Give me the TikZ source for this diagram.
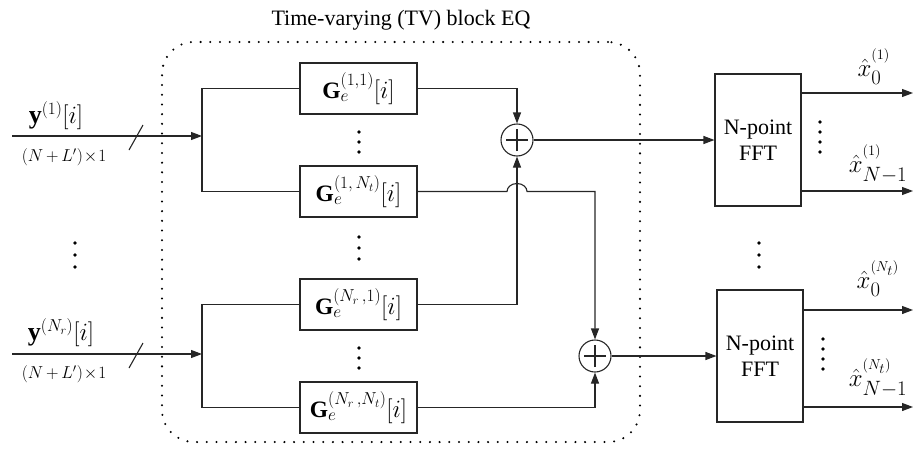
\documentclass[tikz,border=0pt]{standalone}
\usepackage{amsmath}
\usepackage{fontspec}
\setmainfont{Liberation Serif}
\usetikzlibrary{arrows.meta}
\begin{document}
\begin{tikzpicture}[x=1pt,y=-1pt,
  every node/.style={font=\fontsize{22}{26}\selectfont},
  wire/.style={line width=1.1pt, draw=black!85},
  arr/.style={wire,-{Triangle[length=11pt,width=8pt]}},
  gbox/.style={draw=black!85, line width=1.1pt, minimum width=117pt, minimum height=51pt, inner sep=0pt, font=\fontsize{23.5}{26}\selectfont},
  fftbox/.style={draw=black!85, line width=1.1pt, minimum width=86pt, minimum height=132pt, align=center, inner sep=0pt},
  sumnode/.style={circle, draw=black!85, line width=1.1pt, minimum size=32pt, inner sep=0pt},
  eqframe/.style={draw, line width=2.3pt, dash pattern=on 0pt off 9.7pt, line cap=round, rounded corners=32pt, minimum width=478pt, minimum height=400pt, inner sep=0pt},
  small/.style={font=\fontsize{17}{20}\selectfont},
  ylab/.style={font=\fontsize{26}{30}\selectfont},
  xlab/.style={font=\fontsize{31}{34}\selectfont},
  dot/.style={fill=black},
]
\useasboundingbox (0,0) rectangle (920,450);
% frame and title
\node[eqframe] (eq) at (401,242) {};
\node (title) at (401,20) {Time-varying (TV) block EQ};
% equaliser blocks
\node[gbox] (g11) at (358.5,88.5) {$\mathbf{G}_e^{(1,1)}[i]$};
\node[gbox] (g1n) at (358.5,191.5) {$\mathbf{G}_e^{(1,\,N_t)}[i]$};
\node[gbox] (gr1) at (358.5,304.5) {$\mathbf{G}_e^{(N_r\,,1)}[i]$};
\node[gbox] (grn) at (358.5,407.5) {$\mathbf{G}_e^{(N_r\,,N_t)}[i]$};
% summers
\node[sumnode] (s1) at (517,140) {};
\node[sumnode] (s2) at (595,356) {};
\foreach \s in {s1,s2}{
  \draw[wire] ([xshift=-11pt]\s.center) -- ([xshift=11pt]\s.center);
  \draw[wire] ([yshift=-11pt]\s.center) -- ([yshift=11pt]\s.center);
}
% FFT blocks
\node[fftbox] (f1) at (758,140) {N-point\\FFT};
\node[fftbox] (f2) at (760,356) {N-point\\FFT};
% inputs
\coordinate (in1) at (12,136);
\coordinate (b1) at (202,136);
\coordinate (in2) at (12,354);
\coordinate (b2) at (202,354);
\draw[arr] (in1) -- (b1);
\draw[arr] (in2) -- (b2);
\draw[wire] (g11.west) -| (b1) |- (g1n.west);
\draw[wire] (gr1.west) -| (b2) |- (grn.west);
\draw[wire] (129,150) -- (143,125);
\draw[wire] (129,368) -- (143,343);
\node[ylab] (y1) at (56,116) {$\mathbf{y}^{(1)}[i]$};
\node[small] (d1) at (64,157) {$(N{\,+\,}L')\!\times\!1$};
\node[ylab] (y2) at (61,333) {$\mathbf{y}^{(N_r)}[i]$};
\node[small] (d2) at (64,374) {$(N{\,+\,}L')\!\times\!1$};
% block outputs to summers
\draw[arr] (g11.east) -| (s1.north);
\draw[arr] (gr1.east) -| (s1.south);
\draw[arr] (grn.east) -| (s2.south);
\coordinate (j1) at (s1 |- g1n.east);
\coordinate (k1) at (s2 |- g1n.east);
\draw[arr] (g1n.east) -- ([xshift=-10pt]j1) arc[start angle=180,end angle=0,x radius=10pt,y radius=8pt] -- (k1) -- (s2.north);
% summers to FFT
\draw[arr] (s1.east) -- (f1.west);
\draw[arr] (s2.east) -- (f2.west);
% FFT outputs
\coordinate (o11) at (913,93);
\coordinate (o12) at (913,191);
\coordinate (o21) at (913,310);
\coordinate (o22) at (913,407);
\draw[arr] (o11 -| f1.east) -- (o11);
\draw[arr] (o12 -| f1.east) -- (o12);
\draw[arr] (o21 -| f2.east) -- (o21);
\draw[arr] (o22 -| f2.east) -- (o22);
\node[xlab] (x01) at (874,67) {$\hat{x}^{{}^{(1)}}_0$};
\node[xlab] (x11) at (878,164) {$\hat{x}^{{}^{(1)}}_{N-1}$};
\node[xlab] (x02) at (878,279) {$\hat{x}^{{}^{(N_t)}}_0$};
\node[xlab] (x12) at (878,378) {$\hat{x}^{{}^{(N_t)}}_{N-1}$};
% vertical dots
\foreach \y in {132,142,152} \fill[dot] (359,\y) circle[radius=1.9pt];
\foreach \y in {237,248,259} \fill[dot] (359,\y) circle[radius=1.9pt];
\foreach \y in {348,358,368} \fill[dot] (359,\y) circle[radius=1.9pt];
\foreach \y in {243,255,267} \fill[dot] (75,\y) circle[radius=1.9pt];
\foreach \y in {243,255,267} \fill[dot] (759,\y) circle[radius=1.9pt];
\foreach \y in {122,132,142,152} \fill[dot] (820,\y) circle[radius=1.9pt];
\foreach \y in {339,349,359,369} \fill[dot] (823,\y) circle[radius=1.9pt];
\end{tikzpicture}
\end{document}
